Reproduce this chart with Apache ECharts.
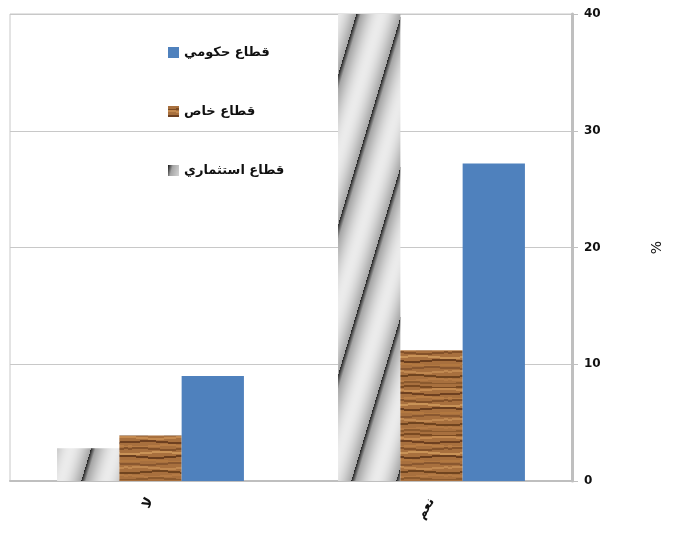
<!DOCTYPE html>
<html><head><meta charset="utf-8">
<script src="https://cdn.jsdelivr.net/npm/echarts@6/dist/echarts.min.js"></script>
<style>html,body{margin:0;padding:0;background:#fff}#c{width:678px;height:536px}</style>
</head><body><div id="c"></div>
<script>
var categories = ['لا', 'نعم'];
var seriesNames = ['قطاع استثماري', 'قطاع خاص', 'قطاع حكومي'];
var investment = [2.8, 40];
var privateSec = [3.9, 11.2];
var government = [9.0, 27.2];
var yTicks = [0, 10, 20, 30, 40];

function grayPattern() {
  var P = 45, H = 150, k = 0.3;
  var c = document.createElement('canvas');
  c.width = P; c.height = H;
  var g = c.getContext('2d');
  for (var y = 0; y < H; y++) {
    for (var x = 0; x < P; x++) {
      var t = (((x + y * k) % P) + P) % P / P;
      var v;
      if (t < 0.1) v = 35 + t / 0.1 * 130;
      else v = 165 + Math.sin((t - 0.1) / 0.9 * Math.PI) * 70;
      v = Math.round(Math.min(235, v));
      g.fillStyle = 'rgb(' + v + ',' + v + ',' + v + ')';
      g.fillRect(x, y, 1, 1);
    }
  }
  return c;
}
function woodPattern() {
  var c = document.createElement('canvas');
  c.width = 64; c.height = 48;
  var g = c.getContext('2d');
  g.fillStyle = '#a8703e';
  g.fillRect(0, 0, 64, 48);
  var rows = [[2,'#7a4a22'],[5,'#c48a50'],[9,'#6e4020'],[13,'#b87d45'],[16,'#84522a'],[20,'#c99357'],[24,'#6a3e1e'],[28,'#b27840'],[31,'#8a5830'],[35,'#c08850'],[39,'#70441f'],[43,'#b47a44'],[46,'#8c5a2e']];
  rows.forEach(function (r) {
    g.fillStyle = r[1];
    for (var x = 0; x < 64; x += 4) {
      var dy = Math.round(Math.sin(x / 9 + r[0]) * 0.8);
      g.fillRect(x, r[0] + dy, 4, 2);
    }
  });
  return c;
}
var grayImg = grayPattern();
var woodImg = woodPattern();

var chart = echarts.init(document.getElementById('c'), null, {renderer: 'canvas'});
var font = '"DejaVu Sans", sans-serif';
chart.setOption({
  animation: false,
  backgroundColor: '#ffffff',
  grid: {left: 10, right: 106, top: 14, bottom: 55, show: true, borderColor: '#c8c8c8', borderWidth: 1},
  legend: {
    orient: 'vertical', left: 163, top: 41, itemGap: 46, itemWidth: 11, itemHeight: 11, icon: 'rect',
    data: [seriesNames[2], seriesNames[1], seriesNames[0]],
    textStyle: {fontFamily: font, fontSize: 13, color: '#111', fontWeight: 'bold'}
  },
  xAxis: {
    type: 'category', data: categories,
    axisLine: {lineStyle: {color: '#bfbfbf', width: 2}},
    axisTick: {show: false},
    axisLabel: {rotate: 60, margin: 18, fontFamily: font, fontSize: 13, color: '#111', fontWeight: 'bold'}
  },
  yAxis: {
    type: 'value', position: 'right', min: 0, max: 40, interval: 10,
    name: '%', nameLocation: 'middle', nameGap: 78, nameRotate: 90,
    nameTextStyle: {fontFamily: font, fontSize: 14, color: '#111'},
    axisLine: {show: true, lineStyle: {color: '#bfbfbf', width: 3}},
    axisTick: {show: true, length: 6, lineStyle: {color: '#bfbfbf'}},
    axisLabel: {margin: 12, fontFamily: font, fontSize: 12, color: '#111', fontWeight: 'bold',
      formatter: function (v) { return yTicks.indexOf(v) >= 0 ? String(v) : ''; }},
    splitLine: {lineStyle: {color: '#c8c8c8'}}
  },
  series: [
    {name: seriesNames[0], type: 'bar', data: investment, barGap: '0%', barCategoryGap: '33.5%',
      itemStyle: {color: {image: grayImg, repeat: 'repeat'}}},
    {name: seriesNames[1], type: 'bar', data: privateSec,
      itemStyle: {color: {image: woodImg, repeat: 'repeat'}}},
    {name: seriesNames[2], type: 'bar', data: government,
      itemStyle: {color: '#4f81bd'}}
  ]
});
</script></body></html>
